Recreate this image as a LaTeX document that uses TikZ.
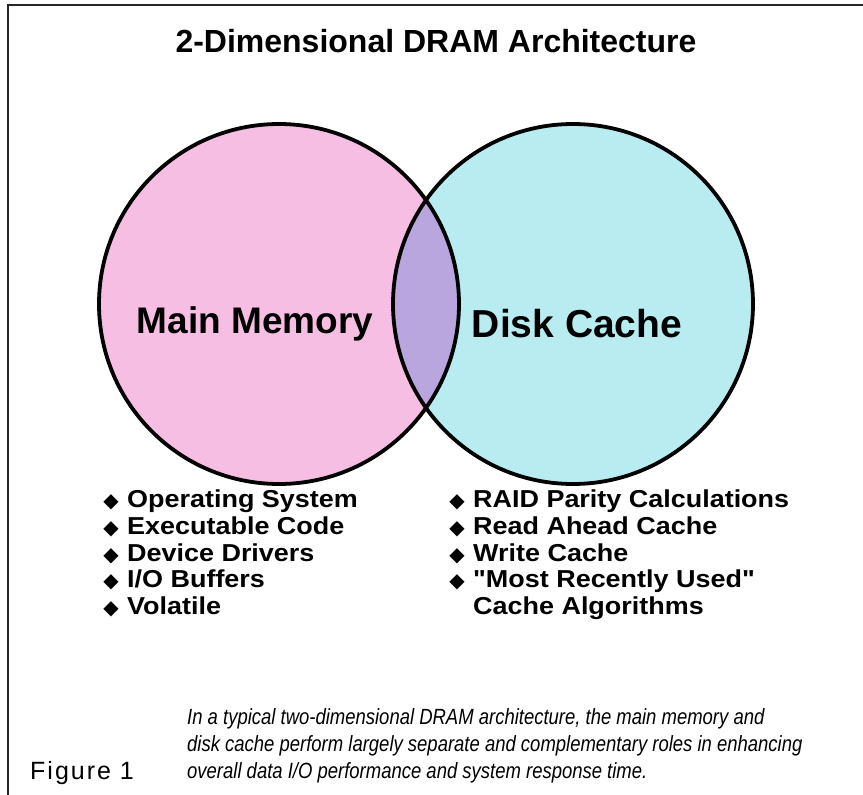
\documentclass[tikz,border=0pt]{standalone}
\usepackage{fontspec}
\setmainfont{Liberation Sans}
\newfontfamily\capfont{Liberation Sans}[FakeStretch=0.84]
\newfontfamily\listfont{Liberation Sans}[FakeStretch=1.1,Ligatures=TeXOff]
\newfontfamily\figfont{Liberation Sans}[LetterSpace=8]
\newfontfamily\symfont{DejaVu Sans}
\definecolor{mempink}{RGB}{246,190,226}
\definecolor{cachecyan}{RGB}{184,236,240}
\definecolor{overlapviolet}{RGB}{186,166,222}
\tikzset{
  ring/.style={
    line width=3.8pt,
    draw=black
  },
  circlelabel/.style={
    inner sep=0pt,
    font=\fontsize{37}{42}\selectfont\bfseries
  },
  item/.style={
    anchor=base west,
    inner sep=0pt,
    font=\listfont\fontsize{24.5}{28}\selectfont\bfseries
  },
  bul/.style={
    anchor=base,
    inner sep=0pt,
    font=\symfont\fontsize{20}{20}\selectfont
  },
  captionline/.style={
    anchor=base west,
    inner sep=0pt,
    font=\capfont\itshape\fontsize{22}{26}\selectfont
  }
}

\begin{document}
\begin{tikzpicture}[x=1pt,y=-1pt]
  \useasboundingbox (0,0) rectangle (863,795);
  \draw[line width=2pt, black!85] (863,5) -- (8,5) -- (8,795);
  \node[anchor=base, inner sep=0pt, font=\fontsize{32}{36}\selectfont\bfseries] (title) at (436,52) {2-Dimensional DRAM Architecture};
  % the two memories
  \coordinate (mm) at (279,304);
  \coordinate (dc) at (573,304);
  \fill[mempink] (mm) circle (180pt);
  \fill[cachecyan] (dc) circle (180pt);
  \begin{scope}
    \clip (mm) circle (180pt);
    \fill[overlapviolet] (dc) circle (180pt);
  \end{scope}
  \draw[ring] (mm) circle (180pt) (dc) circle (180pt);
  \node[circlelabel] (mmlabel) at (255,324) {Main Memory};
  \node[circlelabel, font=\fontsize{39}{44}\selectfont\bfseries] (dclabel) at (577,324) {Disk Cache};
  % lists
  \foreach \txt [count=\i] in {Operating System, Executable Code, Device Drivers, I/O Buffers, Volatile}{
    \node[bul] (lb\i) at (111,481+26.7*\i) {◆};
    \node[item] (li\i) at (127,481+26.7*\i) {\txt};
  }
  \foreach \txt [count=\i] in {RAID Parity Calculations, Read Ahead Cache, Write Cache, "Most Recently Used"}{
    \node[bul] (rb\i) at (457,481+26.7*\i) {◆};
    \node[item] (ri\i) at (473,481+26.7*\i) {\txt};
  }
  \node[item] (ri5) at (473,614.5) {Cache Algorithms};
  % caption
  \node[captionline] (cap1) at (187,724) {In a typical two-dimensional DRAM architecture, the main memory and};
  \node[captionline] (cap2) at (187,751) {disk cache perform largely separate and complementary roles in enhancing};
  \node[captionline] (cap3) at (187,778) {overall data I/O performance and system response time.};
  \node[anchor=base west, inner sep=0pt, font=\figfont\fontsize{25}{28}\selectfont] (fig) at (30,779) {Figure 1};
\end{tikzpicture}
\end{document}
